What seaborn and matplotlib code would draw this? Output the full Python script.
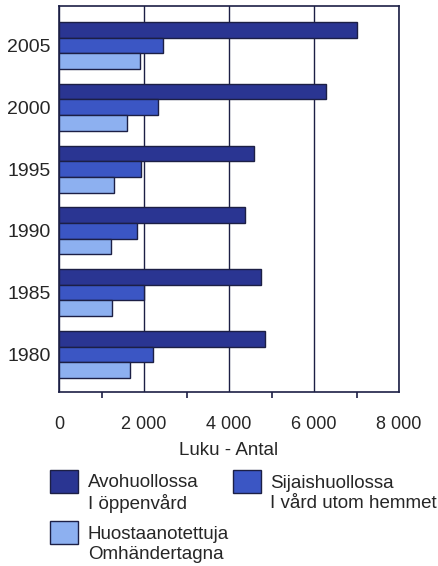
import numpy as np
import pandas as pd
import seaborn as sns
import matplotlib.pyplot as plt
from matplotlib.patches import Patch, Rectangle
from matplotlib.legend_handler import HandlerPatch
from matplotlib.ticker import MultipleLocator, FuncFormatter

#%% Data

years = ['2005', '2000', '1995', '1990', '1985', '1980']
avohuolto = [7000, 6290, 4590, 4380, 4760, 4840]
sijaishuolto = [2440, 2330, 1930, 1830, 2000, 2200]
huostaan = [1900, 1600, 1300, 1220, 1240, 1680]
series = ['Avohuollossa\nI öppenvård',
          'Sijaishuollossa\nI vård utom hemmet',
          'Huostaanotettuja\nOmhändertagna']
colors = ['#2a3592', '#3b56c4', '#8db0f0']

df = pd.DataFrame({'year': years * 3,
                   'value': avohuolto + sijaishuolto + huostaan,
                   'series': np.repeat(series, len(years))})

#%% Plot

sns.set_style('white')
plt.rcParams['font.family'] = ['Liberation Sans', 'DejaVu Sans']
edge = '#1c1f45'

fig = plt.figure(figsize=(4.38, 5.66), dpi=100)
ax = fig.add_axes([59/438, 1 - 392/566, 340/438, 386/566])

sns.barplot(data=df, x='value', y='year', hue='series', order=years, hue_order=series,
            palette=colors, orient='h', width=0.76, edgecolor=edge, linewidth=1.0,
            saturation=1, legend=False, ax=ax)

ax.set_xlim(0, 8000)
ax.set_ylim(5.61, -0.64)
ax.xaxis.set_major_locator(MultipleLocator(2000))
ax.xaxis.set_minor_locator(MultipleLocator(1000))
ax.xaxis.set_major_formatter(FuncFormatter(lambda v, p: f'{int(v):,}'.replace(',', ' ')))
ax.grid(axis='x', which='major', color=edge, linewidth=1.0)
ax.set_axisbelow(True)
for s in ax.spines.values():
    s.set_color(edge)
    s.set_linewidth(1.2)
ax.tick_params(axis='x', which='major', length=8, width=1.2, color=edge, pad=9, labelsize=13)
ax.tick_params(axis='x', which='minor', length=4, width=1.2, color=edge, bottom=True)
ax.tick_params(axis='y', length=0, pad=6, labelsize=14)
ax.set_ylabel('')
ax.set_xlabel('Luku - Antal', fontsize=13.5, labelpad=7)


# legend boxes sit near the top of the two-line labels
def raised_box(legend, orig_handle, xdescent, ydescent, width, height, fontsize):
    return Rectangle((-xdescent, -ydescent + 9), width, height)


# Legend below the axes, filled row by row
order = [0, 2, 1]
handles = [Patch(facecolor=colors[i], edgecolor=edge, linewidth=1.0) for i in order]
labels = [series[i] for i in order]
leg = fig.legend(handles, labels, ncol=2, loc='upper left', bbox_to_anchor=(50/438, 1 - 474/566),
                 frameon=False, fontsize=13.5, handlelength=1.5, handleheight=1.5,
                 handletextpad=0.52, columnspacing=0.18, labelspacing=0.71, borderpad=0,
                 borderaxespad=0, handler_map={Patch: HandlerPatch(patch_func=raised_box)})

fig.savefig('out.png', dpi=100)
